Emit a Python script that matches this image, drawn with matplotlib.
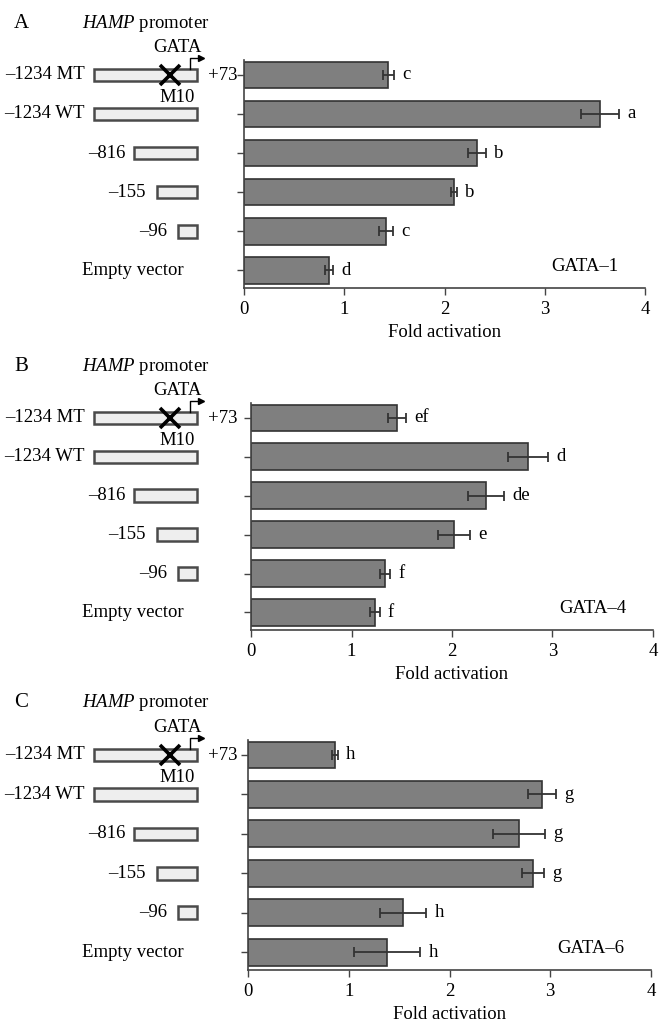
import matplotlib
matplotlib.use("Agg")
import matplotlib.pyplot as plt
from matplotlib.patches import Rectangle
from matplotlib.transforms import blended_transform_factory

plt.rcParams["font.family"] = ["Liberation Serif", "DejaVu Serif"]
plt.rcParams["font.size"] = 13.5
plt.rcParams["mathtext.fontset"] = "custom"
plt.rcParams["mathtext.rm"] = "Liberation Serif"
plt.rcParams["mathtext.it"] = "Liberation Serif:italic"

W, H = 670, 1033

constructs = ["–1234 MT", "–1234 WT", "–816", "–155", "–96", "Empty vector"]
fold_ticks = [0, 1, 2, 3, 4]

gata1_mean = [1.44, 3.55, 2.32, 2.09, 1.42, 0.85]
gata1_err = [0.055, 0.19, 0.09, 0.03, 0.07, 0.04]
gata1_sig = ["c", "a", "b", "b", "c", "d"]

gata4_mean = [1.45, 2.76, 2.34, 2.02, 1.33, 1.23]
gata4_err = [0.09, 0.20, 0.18, 0.16, 0.05, 0.05]
gata4_sig = ["ef", "d", "de", "e", "f", "f"]

gata6_mean = [0.86, 2.92, 2.69, 2.83, 1.54, 1.38]
gata6_err = [0.03, 0.14, 0.26, 0.11, 0.23, 0.33]
gata6_sig = ["h", "g", "g", "g", "h", "h"]

panels = [
    ("A", "GATA–1", gata1_mean, gata1_err, gata1_sig, [244, 288, 401, 228]),
    ("B", "GATA–4", gata4_mean, gata4_err, gata4_sig, [251, 630, 402, 227]),
    ("C", "GATA–6", gata6_mean, gata6_err, gata6_sig, [248, 970, 403, 230]),
]

# left end (px) of each promoter box; None = no box
box_left = [94, 94, 134, 157, 178, None]
box_right = 197
label_right = [85, 85, 125, 146, 167, None]

fig = plt.figure(figsize=(W / 100, H / 100), dpi=100)
fig.patch.set_facecolor("white")

for letter, factor, mean, err, sig, (x0, ybot, w, h) in panels:
    ax = fig.add_axes([x0 / W, 1 - ybot / H, w / W, h / H])
    ypos = list(range(len(constructs)))
    ax.barh(ypos, mean, height=0.68, color="#7f7f7f", edgecolor="#333333",
            linewidth=1.2, zorder=2)
    ax.errorbar(mean, ypos, xerr=err, fmt="none", ecolor="#333333",
                elinewidth=1.3, capsize=3.5, capthick=1.3, zorder=3)
    for i in ypos:
        ax.annotate(sig[i], xy=(mean[i] + err[i], i), xytext=(6, 0),
                    textcoords="offset points", va="center", ha="left")
    ax.text(3.4, 4.9, factor, ha="center", va="center")

    ax.set_xlim(0, 4)
    ax.set_ylim(5.45, -0.38)
    ax.set_xticks(fold_ticks)
    ax.set_yticks(ypos)
    ax.set_yticklabels([])
    ax.set_xlabel("Fold activation", labelpad=5)
    for s in ["top", "right"]:
        ax.spines[s].set_visible(False)
    for s in ["left", "bottom"]:
        ax.spines[s].set_color("#444444")
        ax.spines[s].set_linewidth(1.2)
    ax.tick_params(axis="both", direction="out", length=5, width=1,
                   color="#444444", pad=4)

    # promoter schematic: x in figure fraction, y in the bar axis data units
    tr = blended_transform_factory(fig.transFigure, ax.transData)
    px = lambda v: v / W
    for i in ypos:
        if box_left[i] is not None:
            ax.add_patch(Rectangle((px(box_left[i]), i - 0.16),
                                   px(box_right - box_left[i]), 0.32,
                                   transform=tr, facecolor="#eeeeee",
                                   edgecolor="#4a4a4a", linewidth=1.8,
                                   clip_on=False))
            ax.text(px(label_right[i]), i, constructs[i], transform=tr,
                    ha="right", va="center")
        else:
            ax.text(px(133), i, constructs[i], transform=tr,
                    ha="center", va="center")

    ax.plot([px(170)], [0], transform=tr, marker="x", ms=14, mew=2.6,
            color="black", clip_on=False, zorder=5)
    ax.plot([px(190), px(190), px(200)], [-0.16, -0.44, -0.44], transform=tr,
            color="black", lw=1, clip_on=False)
    ax.plot([px(201)], [-0.44], transform=tr, marker=">", ms=4,
            color="black", clip_on=False)
    ax.text(px(208), 0.02, "+73", transform=tr, ha="left", va="center")
    ax.text(px(177), -0.7, "GATA", transform=tr, ha="center", va="center")
    ax.text(px(177), 0.58, "M10", transform=tr, ha="center", va="center")
    ax.text(px(82), -1.32, "$\\it{HAMP}$ promoter", transform=tr,
            ha="left", va="center")
    ax.text(px(14), -1.32, letter, transform=tr, ha="left", va="center",
            fontsize=15)

fig.savefig("out.png", dpi=100)
